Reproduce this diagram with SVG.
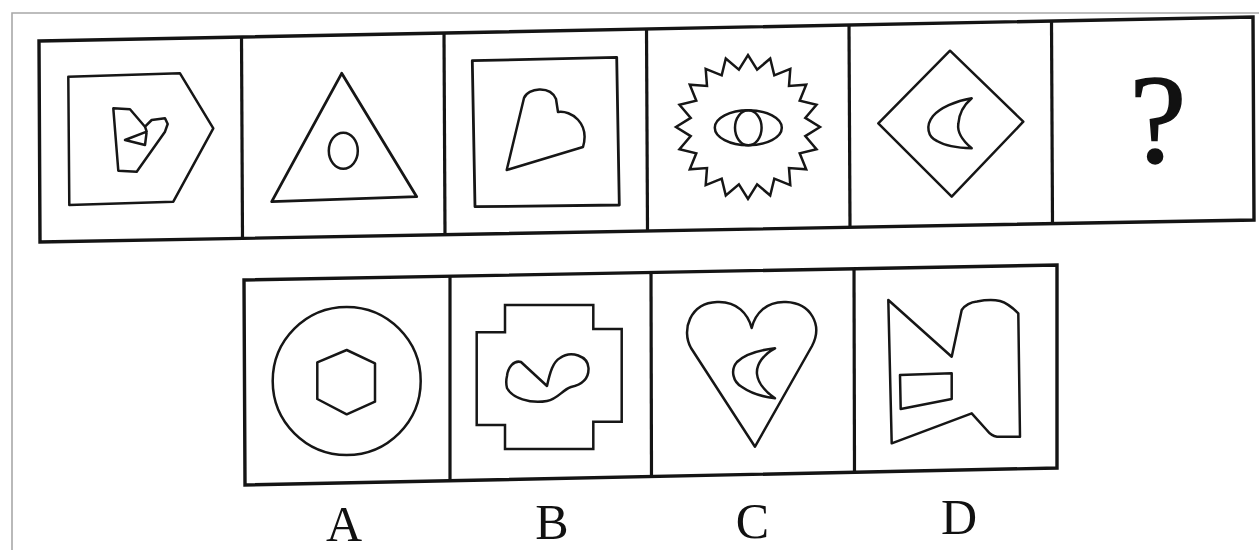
<svg xmlns="http://www.w3.org/2000/svg" width="1259" height="550" viewBox="0 0 1259 550">
<style>
.frame{fill:none;stroke:#141414;stroke-width:3.4;stroke-linejoin:miter}
.div{stroke:#141414;stroke-width:3.2}
.fig{fill:none;stroke:#161616;stroke-width:2.5;stroke-linejoin:round}
.lbl{font-family:"Liberation Serif","Times New Roman",serif;fill:#111;text-anchor:middle}
</style>
<rect width="1259" height="550" fill="#fff"/>
<path d="M12,550 L12,13 L1259,13" fill="none" stroke="#a8a8a8" stroke-width="1.6"/>

<g id="question-row">
  <polygon class="frame" points="39,41 1253,17 1254,220 40,242"/>
  <line class="div" x1="241.5" y1="37" x2="242.5" y2="238.3"/>
  <line class="div" x1="444" y1="33" x2="445" y2="234.7"/>
  <line class="div" x1="646.5" y1="29" x2="647.5" y2="231"/>
  <line class="div" x1="849" y1="25" x2="850" y2="227.3"/>
  <line class="div" x1="1051.5" y1="21" x2="1052.5" y2="223.6"/>
</g>

<g id="cell1">
  <polygon class="fig" points="68.3,76.7 180,73.3 213.3,128.3 173.3,201.7 69.3,205"/>
  <path class="fig" d="M113.3,108.3 L130,109.3 L145,126.7 L151.7,120 L165,118.3 L167.7,124 L165,131.7 L136.7,171.7 L118.3,170.7 Z"/>
  <path class="fig" d="M145,126.7 L146.7,131.7 L125,140 L145,145 L146.7,131.7"/>
</g>

<g id="cell2">
  <polygon class="fig" points="341.7,73.3 271.7,201.7 416.7,196.7" style="stroke-width:2.8"/>
  <ellipse class="fig" cx="343.3" cy="150.7" rx="14.5" ry="18"/>
</g>

<g id="cell3">
  <polygon class="fig" points="472.3,60.7 616.7,57.3 619.3,205 475,206.7" style="stroke-width:2.8"/>
  <path class="fig" d="M506.7,170 L524,98 C528,88 550,85 556,99 L558,112 C571,110 590,123 583,147 Z"/>
</g>

<g id="cell4">
  <polygon class="fig" points="820,127 805.3,136.1 816.5,149.2 799.7,153.3 806.2,169.3 789,168 790.3,185.2 774.3,178.7 770.2,195.5 757.1,184.3 748,199 738.9,184.3 725.8,195.5 721.7,178.7 705.7,185.2 707,168 689.8,169.3 696.3,153.3 679.5,149.2 690.7,136.1 676,127 690.7,117.9 679.5,104.8 696.3,100.7 689.8,84.7 707,86 705.7,68.8 721.7,75.3 725.8,58.5 738.9,69.7 748,55 757.1,69.7 770.2,58.5 774.3,75.3 790.3,68.8 789,86 806.2,84.7 799.7,100.7 816.5,104.8 805.3,117.9" style="stroke-linejoin:miter"/>
  <ellipse class="fig" cx="748.3" cy="127.8" rx="33.5" ry="17.5"/>
  <ellipse class="fig" cx="748.3" cy="127.8" rx="13.3" ry="17.5"/>
</g>

<g id="cell5">
  <polygon class="fig" points="950,50.7 1023.3,121.7 951.7,196.7 878.3,123.3"/>
  <path class="fig" d="M971.7,98.3 C955,101 940,108 933,116 C925,126 928,137 937,141 C947,147 962,148 971.7,148.3 C963,141 957,133 958.3,124 C959,113 965,104 971.7,98.3 Z"/>
</g>

<g id="cell6">
  <text class="lbl" x="1158" y="162" font-size="128" stroke="#111" stroke-width="1.5">?</text>
</g>

<g id="options-row">
  <polygon class="frame" points="244,280 1057,265 1057,468 245,485"/>
  <line class="div" x1="450" y1="276.2" x2="450" y2="480.7"/>
  <line class="div" x1="651" y1="272.5" x2="651.5" y2="476.5"/>
  <line class="div" x1="854" y1="268.7" x2="854.5" y2="472.3"/>
</g>

<g id="optionA">
  <circle class="fig" cx="346.7" cy="381" r="74"/>
  <polygon class="fig" points="346.7,350 375,363.3 375,401.7 346.7,414.3 317.3,399 317.3,362.3"/>
  <text class="lbl" x="344" y="541" font-size="50">A</text>
</g>

<g id="optionB">
  <polygon class="fig" points="505,305 593.3,305 593.3,329 621.7,329 621.7,421.7 593.3,421.7 593.3,449 505,449 505,425 476.7,425 476.7,332.3 505,332.3" style="stroke-linejoin:miter"/>
  <path class="fig" d="M507,376 C508,367 514,360 521,362 L547,386 C550,372 553,362 560,358 C571,350 588,356 588.5,368 C589,380 580,385 571,387 C562,390 558,399 547,401 C530,404 512,398 507,388 C506,384 506,380 507,376 Z"/>
  <text class="lbl" x="552" y="539" font-size="50">B</text>
</g>

<g id="optionC">
  <path class="fig" d="M755,446.7 L691,348 C681,330 690,303 717,302 C737,301 748,314 751.7,328 C755,314 766,301 786,302 C811,303 823,325 812,346 Z"/>
  <path class="fig" d="M775,348.3 C760,350 745,354 737,362 C730,370 733,382 742,387 C752,394 764,397 775,398.3 C766,392 758,384 757,374 C756,364 764,354 775,348.3 Z"/>
  <text class="lbl" x="752.5" y="538" font-size="50">C</text>
</g>

<g id="optionD">
  <path class="fig" d="M888.3,300 L951.7,356.7 L961.7,310 C966,304 971,302 977,301.5 C985,300 993,299.5 1000,301 C1007,303 1013,308 1018.3,313.3 L1020,436.7 L997,436.7 C992,436 989,433 986.7,430 L971.7,413.3 L891.7,443.3 Z"/>
  <polygon class="fig" points="900,375 951.7,373.3 951.7,399 900.7,409"/>
  <text class="lbl" x="959" y="534" font-size="50">D</text>
</g>
</svg>
